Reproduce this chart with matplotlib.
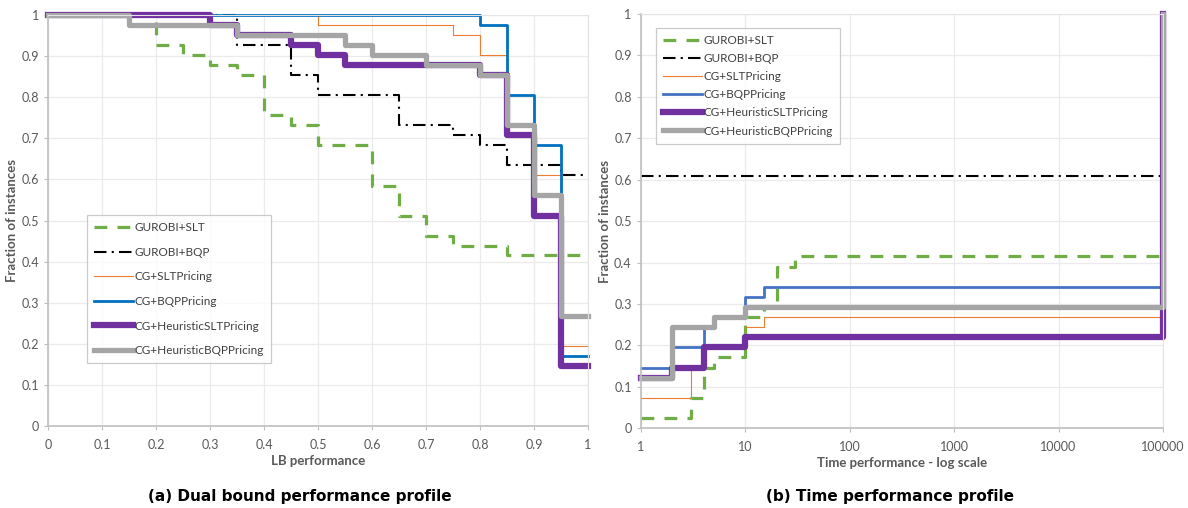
import matplotlib
matplotlib.use("Agg")
import matplotlib.pyplot as plt
from matplotlib.ticker import FixedLocator, NullLocator

# ---- data: (a) dual bound performance profile ----
lb_green_x = [0, 0.2, 0.25, 0.3, 0.35, 0.4, 0.45, 0.5, 0.6, 0.65, 0.7, 0.75, 0.85, 1.0]
lb_green_y = [1, 0.927, 0.902, 0.878, 0.854, 0.756, 0.732, 0.683, 0.585, 0.512, 0.463, 0.439, 0.415, 0.415]
lb_black_x = [0, 0.35, 0.45, 0.5, 0.65, 0.75, 0.8, 0.85, 0.95, 1.0]
lb_black_y = [1, 0.927, 0.854, 0.805, 0.732, 0.707, 0.683, 0.634, 0.61, 0.61]
lb_orange_x = [0, 0.5, 0.75, 0.8, 0.85, 0.9, 0.95, 1.0]
lb_orange_y = [1, 0.976, 0.951, 0.902, 0.732, 0.61, 0.195, 0.195]
lb_blue_x = [0, 0.8, 0.85, 0.9, 0.95, 1.0]
lb_blue_y = [1, 0.976, 0.805, 0.683, 0.171, 0.171]
lb_purple_x = [0, 0.3, 0.35, 0.45, 0.5, 0.55, 0.8, 0.85, 0.9, 0.95, 1.0]
lb_purple_y = [1, 0.976, 0.951, 0.927, 0.902, 0.878, 0.854, 0.707, 0.512, 0.146, 0.146]
lb_grey_x = [0, 0.15, 0.35, 0.55, 0.6, 0.7, 0.8, 0.85, 0.9, 0.95, 1.0]
lb_grey_y = [1, 0.976, 0.951, 0.927, 0.902, 0.878, 0.854, 0.732, 0.561, 0.268, 0.268]

# ---- data: (b) time performance profile ----
t_green_x = [1, 3, 4, 5, 10, 15, 20, 30, 100000]
t_green_y = [0.024, 0.073, 0.146, 0.171, 0.268, 0.293, 0.390, 0.415, 0.415]
t_black_x = [1, 100000]
t_black_y = [0.61, 0.61]
t_orange_x = [1, 3, 4, 10, 15, 100000]
t_orange_y = [0.073, 0.146, 0.195, 0.244, 0.268, 0.268]
t_blue_x = [1, 2, 4, 5, 10, 15, 100000]
t_blue_y = [0.146, 0.195, 0.244, 0.268, 0.317, 0.341, 0.341]
t_purple_x = [1, 2, 4, 10, 100000, 100000]
t_purple_y = [0.122, 0.146, 0.195, 0.220, 0.220, 1.0]
t_grey_x = [1, 2, 5, 10, 100000, 100000]
t_grey_y = [0.122, 0.244, 0.268, 0.293, 0.293, 1.0]

labels = ["GUROBI+SLT", "GUROBI+BQP", "CG+SLTPricing", "CG+BQPPricing",
          "CG+HeuristicSLTPricing", "CG+HeuristicBQPPricing"]
y_ticks = [i / 10 for i in range(11)]
y_tick_labels = ["0", "0.1", "0.2", "0.3", "0.4", "0.5", "0.6", "0.7", "0.8", "0.9", "1"]
lb_x_ticks = [i / 10 for i in range(11)]
lb_x_tick_labels = y_tick_labels
t_x_ticks = [1, 10, 100, 1000, 10000, 100000]
t_x_tick_labels = ["1", "10", "100", "1000", "10000", "100000"]

ui_font = ["Lato", "DejaVu Sans"]
tick_col = "#595959"


def styles(blue):
    return [
        dict(color="#70AD47", lw=2.3, dashes=(4, 3.2)),
        dict(color="black", lw=1.5, dashes=(6, 2.5, 1, 2.5)),
        dict(color="#ED7D31", lw=0.8),
        dict(color=blue, lw=2.0),
        dict(color="#7030A0", lw=4.5),
        dict(color="#A5A5A5", lw=3.8),
    ]


def setup_axes(ax):
    ax.set_ylim(0, 1)
    ax.yaxis.set_major_locator(FixedLocator(y_ticks))
    ax.set_yticklabels(y_tick_labels)
    ax.grid(True, color="#EBEBEB", lw=0.9)
    ax.set_axisbelow(True)
    for s in ["top", "right"]:
        ax.spines[s].set_color("#E3E3E3")
    for s in ["left", "bottom"]:
        ax.spines[s].set_color("#BFBFBF")
        ax.spines[s].set_linewidth(1.2)
    ax.tick_params(length=3, color="#BFBFBF", labelcolor=tick_col, labelsize=9)
    ax.tick_params(axis="x", pad=6)
    for t in ax.get_xticklabels() + ax.get_yticklabels():
        t.set_family(ui_font)
    ax.set_ylabel("Fraction of instances", color=tick_col, fontsize=9.5,
                  fontweight="bold", family=ui_font)


def add_legend(ax, anchor, spacing):
    leg = ax.legend(loc="upper left", bbox_to_anchor=anchor, borderaxespad=0,
                    handlelength=3.3, labelspacing=spacing, handletextpad=0.1,
                    fancybox=False, edgecolor="#BFBFBF", borderpad=0.6,
                    prop={"family": ui_font, "size": 8.5})
    leg.get_frame().set_linewidth(0.9)
    for t in leg.get_texts():
        t.set_color("#404040")
    return leg


fig = plt.figure(figsize=(11.88, 5.08), dpi=100)
ax1 = fig.add_axes([0.0404, 0.1614, 0.4545, 0.809])
ax2 = fig.add_axes([0.5393, 0.157, 0.4397, 0.8156])

# left panel
lb_series = [(lb_green_x, lb_green_y), (lb_black_x, lb_black_y), (lb_orange_x, lb_orange_y),
             (lb_blue_x, lb_blue_y), (lb_purple_x, lb_purple_y), (lb_grey_x, lb_grey_y)]
for (xs, ys), st, lab in zip(lb_series, styles("#0070C0"), labels):
    ax1.step(xs, ys, where="post", label=lab, clip_on=False, **st)
ax1.set_xlim(0, 1)
ax1.xaxis.set_major_locator(FixedLocator(lb_x_ticks))
ax1.set_xticklabels(lb_x_tick_labels)
setup_axes(ax1)
ax1.yaxis.set_label_coords(-0.056, 0.5)
ax1.set_xlabel("LB performance", color=tick_col, fontsize=9.5, fontweight="bold",
               family=ui_font, labelpad=3)
add_legend(ax1, (0.072, 0.513), 1.15)

# right panel
t_series = [(t_green_x, t_green_y), (t_black_x, t_black_y), (t_orange_x, t_orange_y),
            (t_blue_x, t_blue_y), (t_purple_x, t_purple_y), (t_grey_x, t_grey_y)]
for (xs, ys), st, lab in zip(t_series, styles("#4472C4"), labels):
    ax2.step(xs, ys, where="post", label=lab, clip_on=False, **st)
ax2.set_xscale("log")
ax2.set_xlim(1, 100000)
ax2.xaxis.set_major_locator(FixedLocator(t_x_ticks))
ax2.xaxis.set_minor_locator(NullLocator())
ax2.set_xticklabels(t_x_tick_labels)
setup_axes(ax2)
ax2.yaxis.set_label_coords(-0.057, 0.5)
ax2.set_xlabel("Time performance - log scale", color=tick_col, fontsize=9.5,
               fontweight="bold", family=ui_font, labelpad=3)
add_legend(ax2, (0.029, 0.966), 0.6)

fig.text(0.2525, 0.0236, "(a) Dual bound performance profile", ha="center", va="center",
         fontsize=11, fontweight="bold")
fig.text(0.749, 0.0236, "(b) Time performance profile", ha="center", va="center",
         fontsize=11, fontweight="bold")

fig.savefig("out.png", dpi=100)
